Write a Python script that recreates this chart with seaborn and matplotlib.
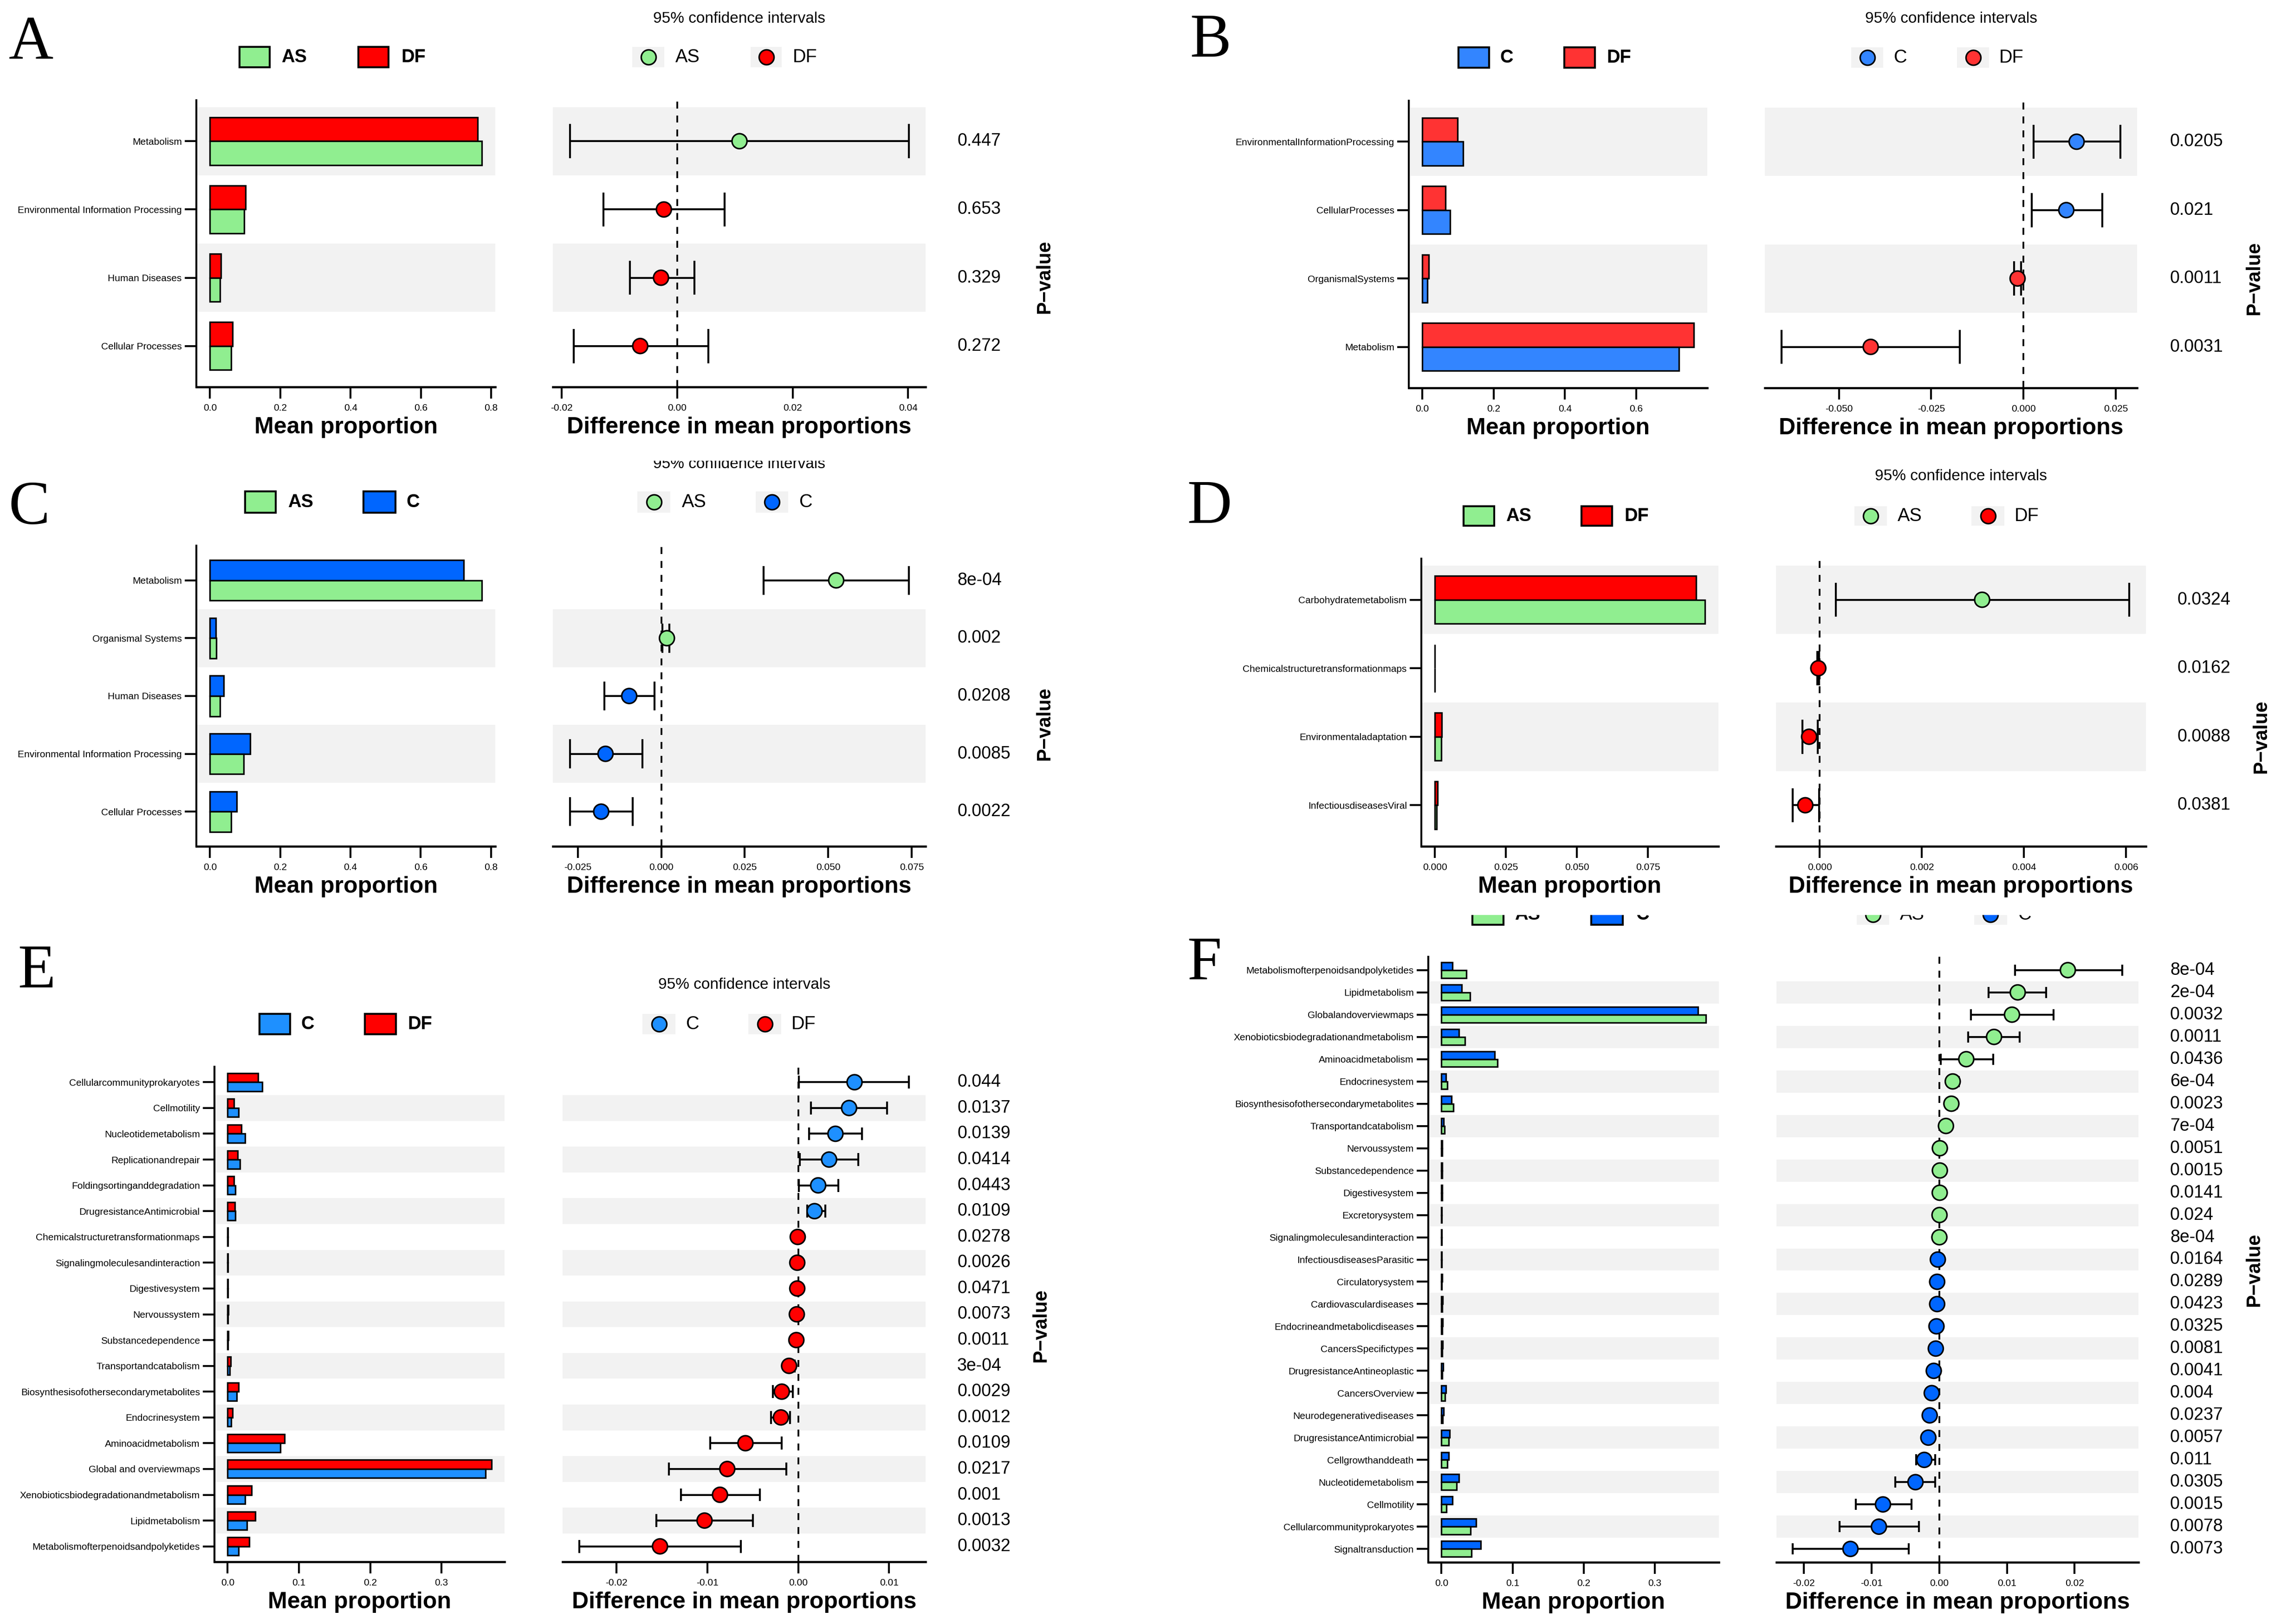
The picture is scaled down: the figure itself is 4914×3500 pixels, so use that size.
import matplotlib
matplotlib.use('Agg')
import matplotlib.pyplot as plt
from matplotlib.patches import Rectangle
from matplotlib.transforms import offset_copy
import pandas as pd
import seaborn as sns

plt.rcParams['font.family'] = ['Liberation Sans', 'DejaVu Sans']

W, H = 4914, 3500          # output size in pixels (300 dpi)
BAND = '#F2F2F2'
GREEN = '#90EE90'
RED = '#FF0000'

# ---------------- data (rows listed top to bottom) ----------------
# A: AS vs DF
a_terms = ['Metabolism', 'Environmental Information Processing', 'Human Diseases', 'Cellular Processes']
a_as = [0.773, 0.0967, 0.029, 0.060]
a_df = [0.761, 0.1008, 0.031, 0.064]
a_diff = [0.0108, -0.0023, -0.0028, -0.0064]
a_lower = [-0.0186, -0.0128, -0.0082, -0.0179]
a_upper = [0.0401, 0.0082, 0.0030, 0.0054]
a_pvals = ['0.447', '0.653', '0.329', '0.272']
a_bar_ticks = [0.0, 0.2, 0.4, 0.6, 0.8]
a_bar_labels = ['0.0', '0.2', '0.4', '0.6', '0.8']
a_ci_ticks = [-0.02, 0.0, 0.02, 0.04]
a_ci_labels = ['-0.02', '0.00', '0.02', '0.04']

# B: C vs DF
b_terms = ['EnvironmentalInformationProcessing', 'CellularProcesses', 'OrganismalSystems', 'Metabolism']
b_c = [0.114, 0.0776, 0.014, 0.720]
b_df = [0.098, 0.065, 0.018, 0.761]
b_diff = [0.0144, 0.0116, -0.0016, -0.0414]
b_lower = [0.0028, 0.0022, -0.0026, -0.0655]
b_upper = [0.0262, 0.0213, -0.0006, -0.0172]
b_pvals = ['0.0205', '0.021', '0.0011', '0.0031']
b_bar_ticks = [0.0, 0.2, 0.4, 0.6]
b_bar_labels = ['0.0', '0.2', '0.4', '0.6']
b_ci_ticks = [-0.05, -0.025, 0.0, 0.025]
b_ci_labels = ['-0.050', '-0.025', '0.000', '0.025']

# C: AS vs C
c_terms = ['Metabolism', 'Organismal Systems', 'Human Diseases',
           'Environmental Information Processing', 'Cellular Processes']
c_as = [0.7737, 0.0185, 0.029, 0.0967, 0.060]
c_c = [0.722, 0.0165, 0.039, 0.115, 0.076]
c_diff = [0.0524, 0.0017, -0.0096, -0.0167, -0.018]
c_lower = [0.0307, 0.0004, -0.017, -0.0274, -0.0274]
c_upper = [0.0741, 0.0024, -0.002, -0.0057, -0.0085]
c_pvals = ['8e-04', '0.002', '0.0208', '0.0085', '0.0022']
c_bar_ticks = [0.0, 0.2, 0.4, 0.6, 0.8]
c_bar_labels = ['0.0', '0.2', '0.4', '0.6', '0.8']
c_ci_ticks = [-0.025, 0.0, 0.025, 0.05, 0.075]
c_ci_labels = ['-0.025', '0.000', '0.025', '0.050', '0.075']

# D: AS vs DF
d_terms = ['Carbohydratemetabolism', 'Chemicalstructuretransformationmaps',
           'Environmentaladaptation', 'InfectiousdiseasesViral']
d_as = [0.0951, 0.00002, 0.0022, 0.0007]
d_df = [0.0920, 0.00005, 0.0024, 0.0010]
d_diff = [0.00318, -0.00003, -0.00021, -0.000285]
d_lower = [0.000314, -0.00005, -0.00034, -0.00053]
d_upper = [0.00606, -0.00001, -0.00004, -0.00001]
d_pvals = ['0.0324', '0.0162', '0.0088', '0.0381']
d_bar_ticks = [0.0, 0.025, 0.05, 0.075]
d_bar_labels = ['0.000', '0.025', '0.050', '0.075']
d_ci_ticks = [0.0, 0.002, 0.004, 0.006]
d_ci_labels = ['0.000', '0.002', '0.004', '0.006']

# E: C vs DF
e_terms = ['Cellularcommunityprokaryotes', 'Cellmotility', 'Nucleotidemetabolism', 'Replicationandrepair',
           'Foldingsortinganddegradation', 'DrugresistanceAntimicrobial', 'Chemicalstructuretransformationmaps',
           'Signalingmoleculesandinteraction', 'Digestivesystem', 'Nervoussystem', 'Substancedependence',
           'Transportandcatabolism', 'Biosynthesisofothersecondarymetabolites', 'Endocrinesystem',
           'Aminoacidmetabolism', 'Global and overviewmaps', 'Xenobioticsbiodegradationandmetabolism',
           'Lipidmetabolism', 'Metabolismofterpenoidsandpolyketides']
e_c = [0.0486, 0.0152, 0.0243, 0.0172, 0.011, 0.011, 0.0002, 0.0003, 0.0005, 0.0007,
       0.0007, 0.003, 0.013, 0.005, 0.074, 0.3617, 0.0243, 0.0274, 0.0152]
e_df = [0.0426, 0.009, 0.0193, 0.0142, 0.009, 0.010, 0.0003, 0.0004, 0.0006, 0.0008,
        0.0009, 0.004, 0.0152, 0.007, 0.080, 0.370, 0.0334, 0.0385, 0.0304]
e_diff = [0.0062, 0.0056, 0.0041, 0.0034, 0.0022, 0.0018, -0.00005, -0.0001, -0.0001, -0.00015,
          -0.0002, -0.001, -0.0018, -0.0019, -0.0058, -0.0078, -0.0086, -0.0103, -0.0152]
e_lower = [0.0001, 0.0014, 0.0012, 0.0002, 0.0001, 0.0010, -0.0001, -0.0002, -0.0002, -0.0003,
           -0.0003, -0.0014, -0.0028, -0.0030, -0.0097, -0.0142, -0.0129, -0.0156, -0.0241]
e_upper = [0.0122, 0.0098, 0.0070, 0.0066, 0.0044, 0.0030, 0.0, -0.00002, -0.00002, -0.00005,
           -0.0001, -0.0004, -0.0006, -0.0009, -0.0018, -0.0013, -0.0042, -0.0050, -0.0063]
e_pvals = ['0.044', '0.0137', '0.0139', '0.0414', '0.0443', '0.0109', '0.0278', '0.0026', '0.0471',
           '0.0073', '0.0011', '3e-04', '0.0029', '0.0012', '0.0109', '0.0217', '0.001', '0.0013', '0.0032']
e_bar_ticks = [0.0, 0.1, 0.2, 0.3]
e_bar_labels = ['0.0', '0.1', '0.2', '0.3']
e_ci_ticks = [-0.02, -0.01, 0.0, 0.01]
e_ci_labels = ['-0.02', '-0.01', '0.00', '0.01']

# F: AS vs C
f_terms = ['Metabolismofterpenoidsandpolyketides', 'Lipidmetabolism', 'Globalandoverviewmaps',
           'Xenobioticsbiodegradationandmetabolism', 'Aminoacidmetabolism', 'Endocrinesystem',
           'Biosynthesisofothersecondarymetabolites', 'Transportandcatabolism', 'Nervoussystem',
           'Substancedependence', 'Digestivesystem', 'Excretorysystem', 'Signalingmoleculesandinteraction',
           'InfectiousdiseasesParasitic', 'Circulatorysystem', 'Cardiovasculardiseases',
           'Endocrineandmetabolicdiseases', 'CancersSpecifictypes', 'DrugresistanceAntineoplastic',
           'CancersOverview', 'Neurodegenerativediseases', 'DrugresistanceAntimicrobial',
           'Cellgrowthanddeath', 'Nucleotidemetabolism', 'Cellmotility', 'Cellularcommunityprokaryotes',
           'Signaltransduction']
f_as = [0.0348, 0.040, 0.3716, 0.0328, 0.0788, 0.008, 0.0164, 0.004, 0.0012, 0.0009, 0.0009, 0.0006,
        0.0006, 0.0004, 0.0005, 0.0011, 0.0011, 0.0013, 0.0012, 0.005, 0.0018, 0.0102, 0.008, 0.0215,
        0.007, 0.041, 0.042]
f_c = [0.0154, 0.0287, 0.361, 0.0246, 0.0747, 0.006, 0.0143, 0.003, 0.0011, 0.0008, 0.0008, 0.0005,
       0.0005, 0.0006, 0.0008, 0.0014, 0.0015, 0.0018, 0.002, 0.006, 0.0032, 0.0113, 0.0102, 0.0246,
       0.0154, 0.049, 0.0553]
f_diff = [0.019, 0.0116, 0.01075, 0.0081, 0.004, 0.002, 0.0018, 0.001, 0.0001, 0.0001, 0.00008, 0.00005,
          0.00003, -0.0002, -0.0003, -0.0003, -0.0004, -0.0005, -0.0008, -0.0011, -0.0014, -0.0016,
          -0.0022, -0.0035, -0.0083, -0.0089, -0.0131]
f_lower = [0.0112, 0.0073, 0.0047, 0.0043, 0.0002, 0.0014, 0.0012, 0.0004, 0.00003, 0.00003, 0.00002,
           0.00001, 0.00001, -0.0003, -0.0004, -0.0004, -0.0005, -0.0007, -0.0011, -0.0015, -0.0020,
           -0.0023, -0.0034, -0.0065, -0.0123, -0.0147, -0.0216]
f_upper = [0.0270, 0.0158, 0.0169, 0.0119, 0.0080, 0.0029, 0.0026, 0.0015, 0.0002, 0.0002, 0.00015,
           0.0001, 0.00006, -0.0001, -0.0002, -0.0002, -0.0003, -0.0003, -0.0005, -0.0007, -0.0007,
           -0.0008, -0.0006, -0.0006, -0.0041, -0.0030, -0.0045]
f_pvals = ['8e-04', '2e-04', '0.0032', '0.0011', '0.0436', '6e-04', '0.0023', '7e-04', '0.0051', '0.0015',
           '0.0141', '0.024', '8e-04', '0.0164', '0.0289', '0.0423', '0.0325', '0.0081', '0.0041', '0.004',
           '0.0237', '0.0057', '0.011', '0.0305', '0.0015', '0.0078', '0.0073']
f_bar_ticks = [0.0, 0.1, 0.2, 0.3]
f_bar_labels = ['0.0', '0.1', '0.2', '0.3']
f_ci_ticks = [-0.02, -0.01, 0.0, 0.01, 0.02]
f_ci_labels = ['-0.02', '-0.01', '0.00', '0.01', '0.02']

panels = [
    dict(key='A', groups=('AS', 'DF'), colors=(GREEN, RED), terms=a_terms, m1=a_as, m2=a_df,
         diff=a_diff, lo=a_lower, hi=a_upper, pvals=a_pvals,
         bt=a_bar_ticks, bl=a_bar_labels, ct=a_ci_ticks, cl=a_ci_labels),
    dict(key='B', groups=('C', 'DF'), colors=('#3385FF', '#FF3333'), terms=b_terms, m1=b_c, m2=b_df,
         diff=b_diff, lo=b_lower, hi=b_upper, pvals=b_pvals,
         bt=b_bar_ticks, bl=b_bar_labels, ct=b_ci_ticks, cl=b_ci_labels),
    dict(key='C', groups=('AS', 'C'), colors=(GREEN, '#0066FF'), terms=c_terms, m1=c_as, m2=c_c,
         diff=c_diff, lo=c_lower, hi=c_upper, pvals=c_pvals,
         bt=c_bar_ticks, bl=c_bar_labels, ct=c_ci_ticks, cl=c_ci_labels),
    dict(key='D', groups=('AS', 'DF'), colors=(GREEN, RED), terms=d_terms, m1=d_as, m2=d_df,
         diff=d_diff, lo=d_lower, hi=d_upper, pvals=d_pvals,
         bt=d_bar_ticks, bl=d_bar_labels, ct=d_ci_ticks, cl=d_ci_labels),
    dict(key='E', groups=('C', 'DF'), colors=('#1E90FF', RED), terms=e_terms, m1=e_c, m2=e_df,
         diff=e_diff, lo=e_lower, hi=e_upper, pvals=e_pvals,
         bt=e_bar_ticks, bl=e_bar_labels, ct=e_ci_ticks, cl=e_ci_labels),
    dict(key='F', groups=('AS', 'C'), colors=(GREEN, '#0066FF'), terms=f_terms, m1=f_as, m2=f_c,
         diff=f_diff, lo=f_lower, hi=f_upper, pvals=f_pvals,
         bt=f_bar_ticks, bl=f_bar_labels, ct=f_ci_ticks, cl=f_ci_labels),
]

# ---------------- layout, in pixels of the output ----------------
layout = {
    'A': dict(bar=(423, 1067), ci=(1191, 1994), y=(216, 834), ptext=2062, plabel=(2250, 597),
              title=49, letter=(19, 125), leg_y=(101, 145),
              leg_bar=[(516, 581, 606), (772, 837, 864)], leg_ci=[(1362, 1431, 1455), (1617, 1684, 1708)]),
    'B': dict(bar=(3035, 3678), ci=(3802, 4604), y=(217, 836), ptext=4675, plabel=(4856, 600),
              title=49, letter=(2563, 122), leg_y=(102, 146),
              leg_bar=[(3142, 3208, 3231), (3370, 3436, 3461)], leg_ci=[(3988, 4057, 4080), (4216, 4285, 4307)]),
    'C': dict(bar=(423, 1067), ci=(1191, 1994), y=(1176, 1824), ptext=2062, plabel=(2250, 1560),
              title=1009, title_clip=993, letter=(19, 1129), leg_y=(1059, 1105),
              leg_bar=[(528, 594, 620), (783, 852, 875)], leg_ci=[(1373, 1444, 1469), (1628, 1698, 1722)]),
    'D': dict(bar=(3062, 3702), ci=(3826, 4623), y=(1204, 1824), ptext=4691, plabel=(4871, 1588),
              title=1035, letter=(2557, 1127), leg_y=(1091, 1133),
              leg_bar=[(3153, 3219, 3244), (3407, 3473, 3499)], leg_ci=[(3995, 4065, 4088), (4247, 4318, 4340)]),
    'E': dict(bar=(462, 1087), ci=(1212, 1994), y=(2299, 3366), ptext=2062, plabel=(2242, 2857),
              title=2131, letter=(38, 2128), leg_y=(2185, 2229),
              leg_bar=[(559, 625, 648), (786, 853, 878)], leg_ci=[(1384, 1455, 1478), (1612, 1683, 1705)]),
    'F': dict(bar=(3077, 3703), ci=(3827, 4607), y=(2062, 3367), ptext=4675, plabel=(4856, 2737),
              title=None, letter=(2557, 2111), leg_y=(1949, 1993), leg_clip=1972,
              leg_bar=[(3172, 3239, 3263), (3428, 3496, 3524)], leg_ci=[(4000, 4070, 4093), (4253, 4324, 4348)]),
}

fig = plt.figure(figsize=(W / 300, H / 300), dpi=300)


def px_axes(x0, y0, x1, y1):
    ax = fig.add_axes([x0 / W, 1 - y1 / H, (x1 - x0) / W, (y1 - y0) / H])
    return ax


def pixel_canvas(x0, y0, x1, y1):
    ax = px_axes(x0, y0, x1, y1)
    ax.set_xlim(x0, x1)
    ax.set_ylim(y1, y0)
    ax.axis('off')
    ax.patch.set_visible(False)
    return ax


def style_axis(ax, left):
    for s in ['top', 'right']:
        ax.spines[s].set_visible(False)
    ax.spines['left'].set_visible(left)
    ax.spines['left'].set_linewidth(1.0)
    ax.spines['bottom'].set_linewidth(1.1)
    ax.tick_params(axis='x', length=6, width=1.0, labelsize=5, pad=2.7, colors='black')
    ax.tick_params(axis='y', length=6, width=1.0, labelsize=5, pad=1.5, colors='black')
    ax.set_xlabel('')
    ax.set_ylabel('')
    ax.patch.set_visible(False)


def add_bands(ax, n):
    for i in range(n):
        if (n - 1 - i) % 2 == 1:
            ax.axhspan(i - 0.5, i + 0.5, color=BAND, lw=0, zorder=0)


def axis_title(ax, text):
    tr = offset_copy(ax.transAxes, fig=fig, y=-24, units='points')
    ax.text(0.5, 0, text, transform=tr, ha='center', va='baseline', fontsize=12, fontweight='bold')


def draw_bars(ax, p):
    n = len(p['terms'])
    g1, g2 = p['groups']
    df = pd.DataFrame({'pos': list(range(n)) * 2,
                       'group': [g1] * n + [g2] * n,
                       'value': list(p['m1']) + list(p['m2'])})
    sns.barplot(data=df, x='value', y='pos', hue='group', hue_order=[g2, g1], orient='y',
                native_scale=True, palette={g1: p['colors'][0], g2: p['colors'][1]},
                width=0.7, gap=0, saturation=1, errorbar=None, edgecolor='black',
                linewidth=0.8, legend=False, ax=ax, zorder=2)
    add_bands(ax, n)
    top = max(max(p['m1']), max(p['m2']))
    ax.set_xlim(-0.05 * top, 1.05 * top)
    ax.set_ylim(n - 0.4, -0.6)
    ax.set_yticks(range(n))
    ax.set_yticklabels(p['terms'])
    ax.set_xticks(p['bt'])
    ax.set_xticklabels(p['bl'])
    style_axis(ax, left=True)
    axis_title(ax, 'Mean proportion')


def draw_ci(ax, p):
    n = len(p['terms'])
    g1, g2 = p['groups']
    pos = list(range(n))
    add_bands(ax, n)
    ax.axvline(0, color='black', lw=0.9, ls=(0, (4, 4)), zorder=1)
    ax.hlines(pos, p['lo'], p['hi'], color='black', lw=1.0, zorder=2)
    ax.vlines(p['lo'], [y - 0.25 for y in pos], [y + 0.25 for y in pos], color='black', lw=1.0, zorder=2)
    ax.vlines(p['hi'], [y - 0.25 for y in pos], [y + 0.25 for y in pos], color='black', lw=1.0, zorder=2)
    winner = [g1 if d > 0 else g2 for d in p['diff']]
    sns.scatterplot(x=p['diff'], y=pos, hue=winner, palette={g1: p['colors'][0], g2: p['colors'][1]},
                    s=60, edgecolor='black', linewidth=0.8, legend=False, ax=ax, zorder=3)
    lo = min(min(p['lo']), 0)
    hi = max(max(p['hi']), 0)
    pad = 0.05 * (hi - lo)
    ax.set_xlim(lo - pad, hi + pad)
    ax.set_ylim(n - 0.4, -0.6)
    ax.set_yticks([])
    ax.set_xticks(p['ct'])
    ax.set_xticklabels(p['cl'])
    style_axis(ax, left=False)
    axis_title(ax, 'Difference in mean proportions')


def draw_legends(ax, p, lay, clip):
    top, bot = lay['leg_y']
    h = bot - top
    cy = (top + bot) / 2
    for (x0, x1, tx), grp, col in zip(lay['leg_bar'], p['groups'], p['colors']):
        ax.add_patch(Rectangle((x0, top), x1 - x0, h, facecolor=col, edgecolor='black', lw=1.0, clip_on=clip))
        ax.text(tx, cy, grp, ha='left', va='center', fontsize=9.5, fontweight='bold', clip_on=clip)
    for (x0, x1, tx), grp, col in zip(lay['leg_ci'], p['groups'], p['colors']):
        ax.add_patch(Rectangle((x0, top), x1 - x0, h, facecolor=BAND, edgecolor='none', clip_on=clip))
        ax.plot([(x0 + x1) / 2], [cy], marker='o', ms=7.7, mfc=col, mec='black', mew=0.8, clip_on=clip)
        ax.text(tx, cy, grp, ha='left', va='center', fontsize=9.5, clip_on=clip)


overlay = pixel_canvas(0, 0, W, H)

for p in panels:
    lay = layout[p['key']]
    y0, y1 = lay['y']
    n = len(p['terms'])

    axb = px_axes(lay['bar'][0], y0, lay['bar'][1], y1)
    draw_bars(axb, p)
    axc = px_axes(lay['ci'][0], y0, lay['ci'][1], y1)
    draw_ci(axc, p)

    # p-value column
    axp = px_axes(lay['ptext'], y0, lay['ptext'] + 150, y1)
    axp.set_ylim(n - 0.4, -0.6)
    axp.axis('off')
    for i, pv in enumerate(p['pvals']):
        axp.text(0, i, pv, transform=axp.get_yaxis_transform(), ha='left', va='center', fontsize=9)
    overlay.text(lay['plabel'][0], lay['plabel'][1], 'P\u2212value', rotation=90, ha='center',
                 va='center', fontsize=10, fontweight='bold')

    # confidence interval title
    ci_mid = (lay['ci'][0] + lay['ci'][1]) / 2
    if lay['title'] is not None:
        if 'title_clip' in lay:
            tax = pixel_canvas(lay['ci'][0], lay['title_clip'], lay['ci'][1], lay['title'] + 20)
            tax.text(ci_mid, lay['title'], '95% confidence intervals', ha='center', va='baseline',
                     fontsize=8, clip_on=True)
        else:
            overlay.text(ci_mid, lay['title'], '95% confidence intervals', ha='center', va='baseline',
                         fontsize=8)

    # legends
    if 'leg_clip' in lay:
        lax = pixel_canvas(lay['bar'][0], lay['leg_clip'], lay['ptext'], lay['leg_y'][1] + 15)
        draw_legends(lax, p, lay, clip=True)
    else:
        draw_legends(overlay, p, lay, clip=False)

    # panel letter
    overlay.text(lay['letter'][0], lay['letter'][1], p['key'], ha='left', va='baseline', fontsize=32,
                 family=['Liberation Serif', 'DejaVu Serif'])

fig.savefig('out.png', dpi=300)
